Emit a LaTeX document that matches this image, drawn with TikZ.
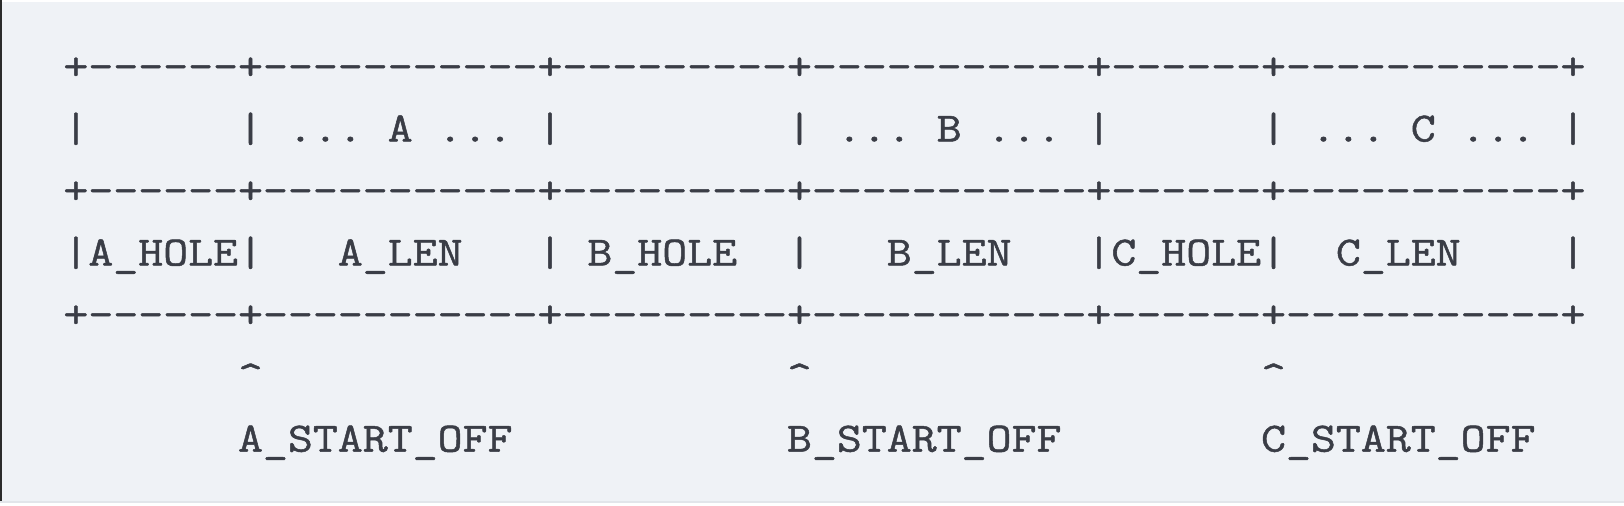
\documentclass[tikz,border=0pt]{standalone}
\usepackage{fontspec}
\setmonofont[FakeStretch=1.163,FakeBold=1.2]{Latin Modern Mono}

\definecolor{codebg}{HTML}{EFF2F6}
\definecolor{codeink}{HTML}{3A3D46}
\definecolor{edgegray}{HTML}{E2E5EA}
\definecolor{leftbar}{HTML}{2B2B2B}

\tikzset{
  row/.style={anchor=base west, inner sep=0pt, text=codeink,
    font=\ttfamily\fontsize{20.83}{25}\selectfont}
}

% one border row of the ascii table
\newcommand{\sepline}{+------+-----------+---------+-----------+------+-----------+}

\begin{document}
\begin{tikzpicture}[x=0.5pt,y=-0.5pt]
  \fill[white] (0,0) rectangle (1624,506);
  \useasboundingbox (0,0) rectangle (1624,506);
  \fill[codebg] (0,2) rectangle (1624,501);
  \fill[edgegray] (0,501) rectangle (1624,503.5);
  \fill[leftbar] (0,0) rectangle (1.7,501);

  \node[row] (top) at (63,79.5) {\sepline};
  \node[row] (blocks) at (63,141.5) {|~~~~~~|~...~A~...~|~~~~~~~~~|~...~B~...~|~~~~~~|~...~C~...~|};
  \node[row] (mid) at (63,203.5) {\sepline};
  \node[row] (fields) at (63,265.5) {|A\_HOLE|~~~A\_LEN~~~|~B\_HOLE~~|~~~B\_LEN~~~|C\_HOLE|~~C\_LEN~~~~|};
  \node[row] (bottom) at (63,327.5) {\sepline};
  \node[row] (marks) at (63,389.5) {~~~~~~~\textasciicircum~~~~~~~~~~~~~~~~~~~~~\textasciicircum~~~~~~~~~~~~~~~~~~\textasciicircum};
  \node[row] (offsets) at (63,451.6) {~~~~~~~A\_START\_OFF~~~~~~~~~~~B\_START\_OFF~~~~~~~~C\_START\_OFF};
\end{tikzpicture}
\end{document}
